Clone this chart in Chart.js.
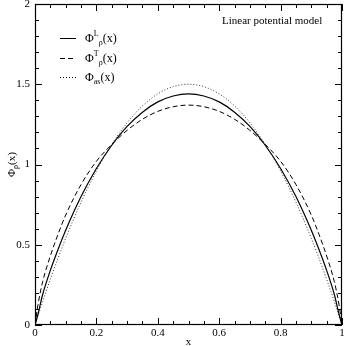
<!DOCTYPE html>
<html>
<head>
<meta charset="utf-8">
<script src="https://cdn.jsdelivr.net/npm/chart.js@4.4.1/dist/chart.umd.min.js"></script>
<style>
  html, body { margin: 0; padding: 0; background: #fff; }
  #wrap { width: 346px; height: 346px; }
</style>
</head>
<body>
<div id="wrap"><canvas id="myChart" width="346" height="346"></canvas></div>
<script>
// x positions and the three distribution amplitudes
var xVals  = [0, 0.01, 0.025, 0.05, 0.075, 0.1, 0.15, 0.2, 0.25, 0.3, 0.35, 0.4, 0.45, 0.5,
              0.55, 0.6, 0.65, 0.7, 0.75, 0.8, 0.85, 0.9, 0.925, 0.95, 0.975, 0.99, 1];
var phiL   = [0, 0.07, 0.19, 0.34, 0.47, 0.59, 0.80, 0.975, 1.12, 1.237, 1.326, 1.39, 1.427, 1.44,
              1.427, 1.39, 1.326, 1.237, 1.12, 0.975, 0.80, 0.59, 0.47, 0.34, 0.19, 0.07, 0];
var phiT   = [0, 0.13, 0.27, 0.43, 0.565, 0.685, 0.875, 1.02, 1.125, 1.213, 1.282, 1.331, 1.36, 1.37,
              1.36, 1.331, 1.282, 1.213, 1.125, 1.02, 0.875, 0.685, 0.565, 0.43, 0.27, 0.13, 0];
var phiAs  = [0, 0.059, 0.146, 0.285, 0.416, 0.54, 0.765, 0.96, 1.125, 1.26, 1.365, 1.44, 1.485, 1.5,
              1.485, 1.44, 1.365, 1.26, 1.125, 0.96, 0.765, 0.54, 0.416, 0.285, 0.146, 0.059, 0];
var xTicks = [0, 0.2, 0.4, 0.6, 0.8, 1];
var yTicks = [0, 0.5, 1, 1.5, 2];

var legendRows = [
  { sup: 'L', sub: '\u03c1', dash: [] },
  { sup: 'T', sub: '\u03c1', dash: [5, 3] },
  { sup: '',  sub: 'as',     dash: [1, 2] }
];

function pts(ys) {
  var out = [];
  for (var i = 0; i < xVals.length; i++) out.push({ x: xVals[i], y: ys[i] });
  return out;
}

var serif = "'Liberation Serif', 'DejaVu Serif', serif";

var decor = {
  id: 'decor',
  afterDraw: function (chart) {
    var c = chart.ctx, a = chart.chartArea;
    var sx = chart.scales.x, sy = chart.scales.y;
    c.save();
    c.strokeStyle = '#000';
    c.lineWidth = 1.2;
    c.strokeRect(a.left + 0.5, a.top + 0.5, a.right - a.left - 1, a.bottom - a.top - 1);

    c.lineWidth = 1;
    // inward ticks on all four sides
    for (var i = 0; i <= 20; i++) {
      var v = i * 0.05;
      var px = Math.round(sx.getPixelForValue(v)) + 0.5;
      var len = (i % 4 === 0) ? 7 : 4;
      c.beginPath();
      c.moveTo(px, a.bottom); c.lineTo(px, a.bottom - len);
      c.moveTo(px, a.top); c.lineTo(px, a.top + len);
      c.stroke();
    }
    for (var j = 0; j <= 20; j++) {
      var w = j * 0.1;
      var py = Math.round(sy.getPixelForValue(w)) + 0.5;
      var l2 = (j % 5 === 0) ? 7 : 4;
      c.beginPath();
      c.moveTo(a.left, py); c.lineTo(a.left + l2, py);
      c.moveTo(a.right, py); c.lineTo(a.right - l2, py);
      c.stroke();
    }

    c.fillStyle = '#000';
    c.font = '11px ' + serif;

    // tick labels
    c.textAlign = 'center';
    c.textBaseline = 'top';
    xTicks.forEach(function (v) {
      c.fillText(String(v), sx.getPixelForValue(v), a.bottom + 3);
    });
    c.textAlign = 'right';
    c.textBaseline = 'middle';
    yTicks.forEach(function (v) {
      c.fillText(String(v), a.left - 5, sy.getPixelForValue(v));
    });

    c.textBaseline = 'alphabetic';
    // x title
    c.textAlign = 'center';
    c.fillText('x', (a.left + a.right) / 2, 345);

    // y title, rotated
    c.save();
    c.translate(15, (a.top + a.bottom) / 2);
    c.rotate(-Math.PI / 2);
    c.textAlign = 'left';
    var t1 = '\u03a6', t2 = '\u03c1', t3 = '(x)';
    c.font = '11px ' + serif;
    var w1 = c.measureText(t1).width, w3 = c.measureText(t3).width;
    c.font = '8px ' + serif;
    var w2 = c.measureText(t2).width;
    var x0 = -(w1 + w2 + w3) / 2;
    c.font = '11px ' + serif;
    c.fillText(t1, x0, 0);
    c.font = '8px ' + serif;
    c.fillText(t2, x0 + w1, 3);
    c.font = '11px ' + serif;
    c.fillText(t3, x0 + w1 + w2, 0);
    c.restore();

    // annotation
    c.font = '11px ' + serif;
    c.textAlign = 'left';
    c.fillText('Linear potential model', 222, 24);

    // legend
    var rowsY = [38, 58, 77];
    for (var k = 0; k < legendRows.length; k++) {
      var r = legendRows[k], y = rowsY[k];
      c.setLineDash(r.dash);
      c.lineWidth = 1;
      c.beginPath();
      c.moveTo(60, y + 0.5); c.lineTo(76, y + 0.5);
      c.stroke();
      c.setLineDash([]);
      var tx = 85;
      c.font = '12px ' + serif;
      c.fillText('\u03a6', tx, y + 4);
      tx += c.measureText('\u03a6').width;
      c.font = '8px ' + serif;
      if (r.sup) {
        c.fillText(r.sup, tx, y - 2);
        tx += c.measureText(r.sup).width;
      }
      c.fillText(r.sub, tx, y + 7);
      tx += c.measureText(r.sub).width;
      c.font = '12px ' + serif;
      c.fillText('(x)', tx, y + 4);
    }
    c.restore();
  }
};

new Chart(document.getElementById('myChart').getContext('2d'), {
  type: 'scatter',
  data: {
    datasets: [
      { label: 'L', data: pts(phiL), showLine: true, borderColor: '#000', borderWidth: 1.2,
        pointRadius: 0, cubicInterpolationMode: 'monotone', fill: false },
      { label: 'T', data: pts(phiT), showLine: true, borderColor: '#000', borderWidth: 1,
        borderDash: [5, 3], pointRadius: 0, cubicInterpolationMode: 'monotone', fill: false },
      { label: 'as', data: pts(phiAs), showLine: true, borderColor: '#333', borderWidth: 1,
        borderDash: [1, 2], pointRadius: 0, cubicInterpolationMode: 'monotone', fill: false }
    ]
  },
  options: {
    responsive: false,
    animation: false,
    layout: { padding: { top: 4, right: 4, left: 35, bottom: 21 } },
    plugins: { legend: { display: false }, tooltip: { enabled: false } },
    scales: {
      x: { type: 'linear', min: 0, max: 1, display: false },
      y: { type: 'linear', min: 0, max: 2, display: false }
    }
  },
  plugins: [decor]
});
</script>
</body>
</html>
